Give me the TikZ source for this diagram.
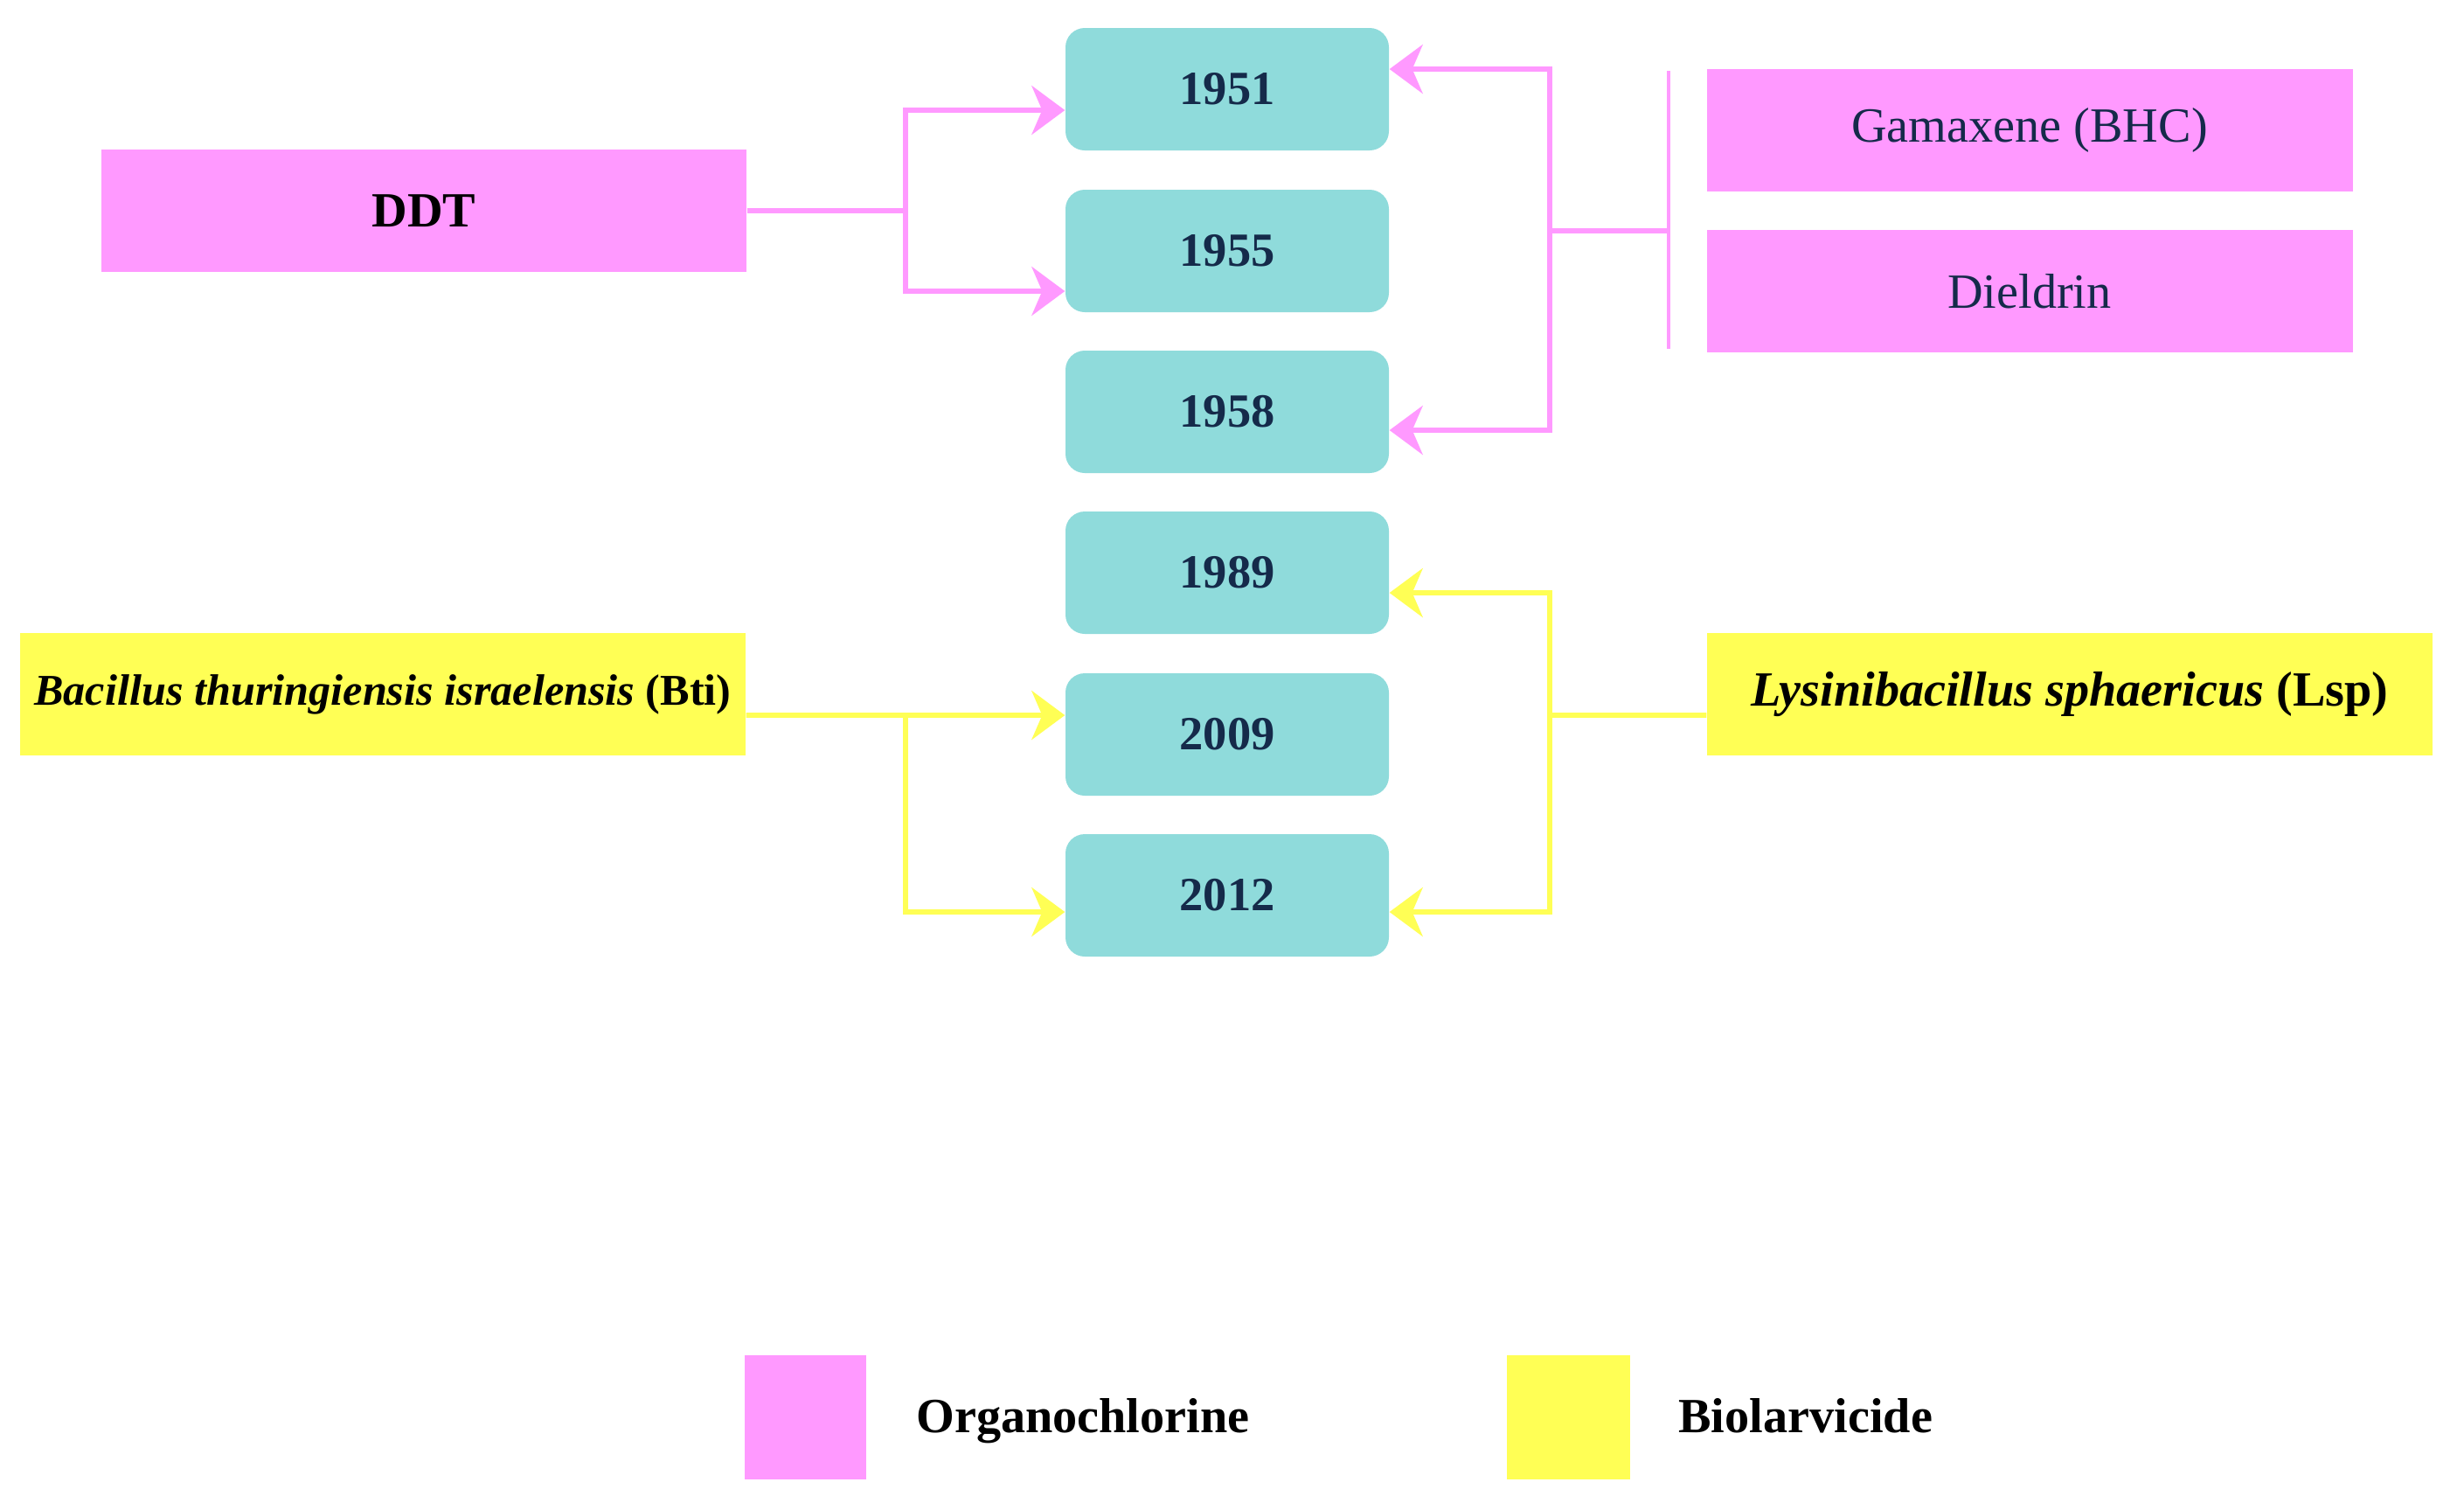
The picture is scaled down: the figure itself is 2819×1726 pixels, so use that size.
\documentclass[tikz,border=0pt]{standalone}
\usepackage{fontspec}
\setmainfont{Liberation Serif}
\usetikzlibrary{arrows.meta}
\definecolor{pk}{HTML}{FF99FF}
\definecolor{cy}{HTML}{8FDBDB}
\definecolor{yl}{HTML}{FFFF55}
\definecolor{navy}{HTML}{152A4A}
\begin{document}
\begin{tikzpicture}[x=0.1mm,y=-0.1mm,
  yr/.style={fill=cy,rounded corners=2.2mm,minimum width=37mm,minimum height=14mm,inner sep=0pt,text=navy,font=\fontsize{15.5}{18}\selectfont\bfseries},
  pkbox/.style={fill=pk,minimum width=73.8mm,minimum height=14mm,inner sep=0pt,font=\fontsize{16}{18}\selectfont\bfseries},
  ylbox/.style={fill=yl,minimum width=83mm,minimum height=14mm,inner sep=0pt,font=\fontsize{16}{18}\selectfont\bfseries},
  pkline/.style={draw=pk,line width=1.6pt},
  ylline/.style={draw=yl,line width=1.6pt},
  arr/.style={-{Stealth[length=3.8mm,width=5.6mm,inset=1.2mm]}},
  legtext/.style={anchor=base west,font=\fontsize{16}{19}\selectfont\bfseries}
]
\useasboundingbox (0,0) rectangle (2819,1726);
% year boxes
\node[yr] (y1951) at (1404,102) {1951};
\node[yr] (y1955) at (1404,287) {1955};
\node[yr] (y1958) at (1404,471) {1958};
\node[yr] (y1989) at (1404,655) {1989};
\node[yr] (y2009) at (1404,840) {2009};
\node[yr] (y2012) at (1404,1024) {2012};
% source boxes
\node[pkbox] (ddt) at (485,241) {DDT};
\node[pkbox,minimum width=73.9mm,text=navy,font=\fontsize{16}{18}\selectfont] (gam) at (2322,149) {Gamaxene (BHC)};
\node[pkbox,minimum width=73.9mm,text=navy,font=\fontsize{16}{18}\selectfont] (die) at (2322,333) {Dieldrin};
\node[ylbox,font=\fontsize{14.3}{17}\selectfont\bfseries] (bti) at (438,794) {\textit{Bacillus thuringiensis israelensis} (Bti)};
\node[ylbox] (lsp) at (2368,794) {\textit{Lysinibacillus sphaericus} (Lsp)};
% DDT connectors
\coordinate (jd) at (1036,241);
\draw[pkline] (ddt.east) -- (jd);
\draw[pkline,arr] (jd) |- ([yshift=-2.4mm]y1951.west);
\draw[pkline,arr] (jd) |- ([yshift=-4.6mm]y1955.west);
% Gamaxene / Dieldrin connectors
\coordinate (bt) at (1909,81);
\coordinate (bb) at (1909,399);
\coordinate (bm) at (1909,264);
\coordinate (jg) at (1773,264);
\draw[draw=pk,line width=1.2pt] (bt) -- (bb);
\draw[pkline] (bm) -- (jg);
\draw[pkline,arr] (jg) |- ([yshift=2.3mm]y1951.east);
\draw[pkline,arr] (jg) |- ([yshift=-2.1mm]y1958.east);
% Bti connectors
\coordinate (jb) at (1036,818);
\draw[ylline] ([yshift=-2.4mm]bti.east) -- (jb);
\draw[ylline,arr] (jb) -- ([yshift=2.2mm]y2009.west);
\draw[ylline,arr] (jb) |- ([yshift=-1.9mm]y2012.west);
% Lsp connectors
\coordinate (jl) at (1773,818);
\draw[ylline] ([yshift=-2.4mm]lsp.west) -- (jl);
\draw[ylline,arr] (jl) |- ([yshift=-2.3mm]y1989.east);
\draw[ylline,arr] (jl) |- ([yshift=-1.9mm]y2012.east);
% legend
\fill[pk] (852,1550) rectangle (991,1692);
\node[legtext] (lo) at (1036,1638) {Organochlorine};
\fill[yl] (1724,1550) rectangle (1865,1692);
\node[legtext] (lb) at (1908,1638) {Biolarvicide};
\end{tikzpicture}
\end{document}
